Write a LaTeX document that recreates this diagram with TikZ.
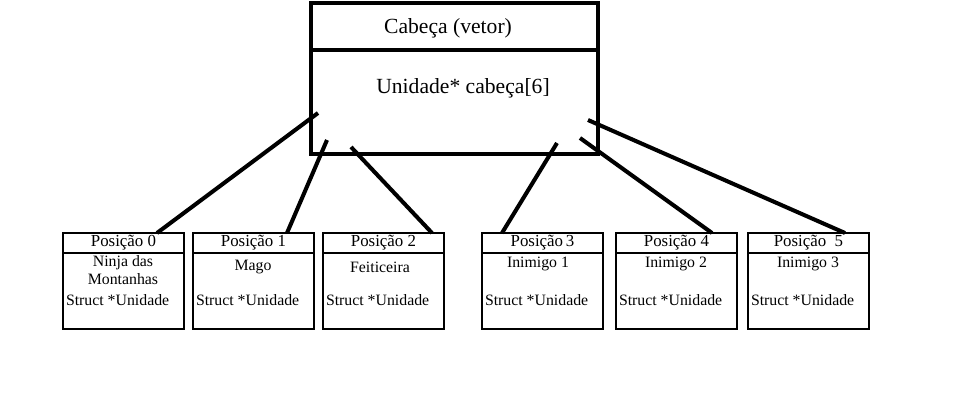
\documentclass[tikz,border=0pt]{standalone}
\usepackage{fontspec}
\setmainfont{Liberation Serif}
\usetikzlibrary{calc}
\begin{document}
\begin{tikzpicture}[x=0.02cm, y=-0.02cm, every node/.style={outer sep=0pt, inner sep=0pt}, line join=miter, line cap=rect,
    cabbox/.style={draw, line width=2.2pt, minimum width=5.74cm, anchor=north west},
    headbox/.style={draw, line width=1.5pt, minimum width=2.42cm, minimum height=0.4cm, anchor=north west, font=\fontsize{9.6}{10}\selectfont},
    bodybox/.style={draw, line width=1.5pt, minimum width=2.42cm, minimum height=1.52cm, anchor=north west},
    small/.style={font=\fontsize{9}{9.8}\selectfont, align=center},
    link/.style={line width=2.3pt, line cap=butt}]
    \useasboundingbox (0,0) rectangle (960,409);
    \fill[white] (0,0) rectangle (960,409);

    \node[cabbox, minimum height=0.94cm] (cabhead) at (311,3) {};
    \node[cabbox, minimum height=2.08cm] (cabbody) at (311,50) {};
    \node[font=\fontsize{12.3}{14}\selectfont] (cabtitle) at (448,28) {Cabeça (vetor)};
    \node[font=\fontsize{12.3}{14}\selectfont] (cabdecl) at (463,88) {Unidade* cabeça[6]};

    \node[headbox] (pos0) at (63,233) {Posição 0};
    \node[bodybox] (uni0) at (63,253) {};
    \node[small] (nome0) at (123,270) {Ninja das\\Montanhas};
    \node[small, anchor=west] (tipo0) at (66,300) {Struct *Unidade};

    \node[headbox] (pos1) at (193,233) {Posição 1};
    \node[bodybox] (uni1) at (193,253) {};
    \node[small] (nome1) at (253,267) {Mago};
    \node[small, anchor=west] (tipo1) at (196,300) {Struct *Unidade};

    \node[headbox] (pos2) at (323,233) {Posição 2};
    \node[bodybox] (uni2) at (323,253) {};
    \node[small] (nome2) at (380,267) {Feiticeira};
    \node[small, anchor=west] (tipo2) at (326,300) {Struct *Unidade};

    \node[headbox] (pos3) at (482,233) {Posição\,3};
    \node[bodybox] (uni3) at (482,253) {};
    \node[small] (nome3) at (538,264) {Inimigo 1};
    \node[small, anchor=west] (tipo3) at (485,300) {Struct *Unidade};

    \node[headbox] (pos4) at (616,233) {Posição 4};
    \node[bodybox] (uni4) at (616,253) {};
    \node[small] (nome4) at (676,264) {Inimigo 2};
    \node[small, anchor=west] (tipo4) at (619,300) {Struct *Unidade};

    \node[headbox] (pos5) at (748,233) {Posição\ \ 5};
    \node[bodybox] (uni5) at (748,253) {};
    \node[small] (nome5) at (808,264) {Inimigo 3};
    \node[small, anchor=west] (tipo5) at (751,300) {Struct *Unidade};

    \coordinate (c0) at (318,113);
    \coordinate (c1) at (327,140);
    \coordinate (c2) at (351,147);
    \coordinate (c3) at (557,143);
    \coordinate (c4) at (580,138);
    \coordinate (c5) at (588,120);
    \draw[link] (c0) -- ($(pos0.north west)+(94,0)$);
    \draw[link] (c1) -- ($(pos1.north west)+(94,0)$);
    \draw[link] (c2) -- ($(pos2.north west)+(109,0)$);
    \draw[link] (c3) -- ($(pos3.north west)+(20,0)$);
    \draw[link] (c4) -- ($(pos4.north west)+(96,0)$);
    \draw[link] (c5) -- ($(pos5.north west)+(97,0)$);
\end{tikzpicture}
\end{document}
